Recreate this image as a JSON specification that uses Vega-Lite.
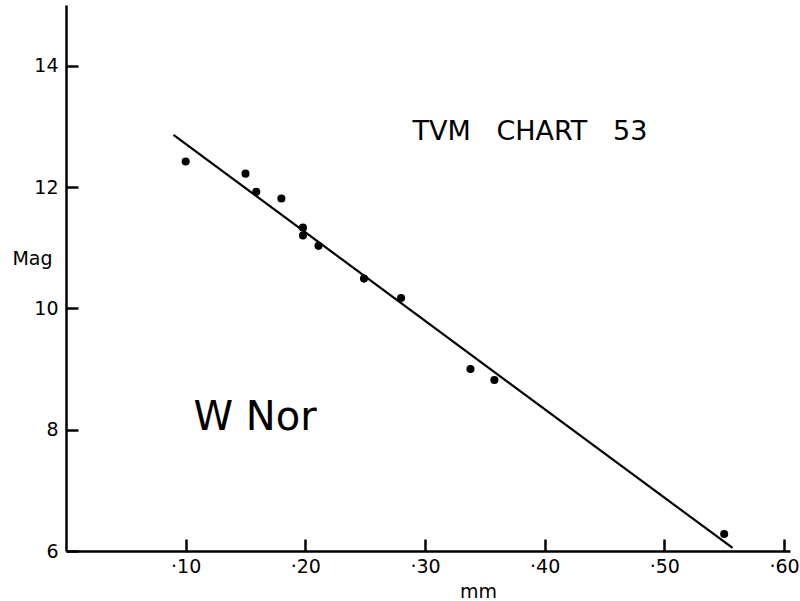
{
  "$schema": "https://vega.github.io/schema/vega-lite/v6.json",
  "width": 724,
  "height": 546,
  "autosize": "none",
  "padding": {"left": 66, "top": 5, "right": 10, "bottom": 50},
  "background": "white",
  "config": {
    "view": {"stroke": null},
    "font": "DejaVu Sans",
    "axis": {"grid": false, "domainColor": "black", "domainWidth": 2.5, "tickColor": "black", "tickWidth": 2.5, "labelColor": "black", "titleColor": "black", "labelFont": "DejaVu Sans", "titleFont": "DejaVu Sans", "labelFontSize": 19, "titleFontSize": 19, "titleFontWeight": "normal", "labelFontWeight": 500}
  },
  "datasets": {
    "pts": [
      {"mm": 0.100, "mag": 12.42},
      {"mm": 0.150, "mag": 12.22},
      {"mm": 0.159, "mag": 11.92},
      {"mm": 0.180, "mag": 11.81},
      {"mm": 0.198, "mag": 11.33},
      {"mm": 0.198, "mag": 11.20},
      {"mm": 0.211, "mag": 11.03},
      {"mm": 0.249, "mag": 10.49},
      {"mm": 0.280, "mag": 10.17},
      {"mm": 0.338, "mag": 9.00},
      {"mm": 0.358, "mag": 8.82},
      {"mm": 0.550, "mag": 6.28}
    ],
    "fit": [
      {"mm": 0.0898, "mag": 12.86},
      {"mm": 0.557, "mag": 6.05}
    ],
    "labels": [
      {"mm": 0.3877, "mag": 12.91, "label": "TVM\u00a0\u00a0\u00a0CHART\u00a0\u00a0\u00a053", "kind": "title"},
      {"mm": 0.158, "mag": 8.19, "label": "W\u00a0Nor", "kind": "star"}
    ]
  },
  "layer": [
    {
      "data": {"name": "fit"},
      "mark": {"type": "line", "color": "black", "strokeWidth": 2.2},
      "encoding": {
        "x": {"field": "mm", "type": "quantitative", "scale": {"domain": [0, 0.605], "nice": false, "zero": false},
          "axis": {"values": [0.1, 0.2, 0.3, 0.4, 0.5, 0.6], "labelExpr": "'·' + format(datum.value * 100, '.0f')", "tickSize": -12, "labelPadding": 18, "title": "mm", "titleX": 412, "titleY": 40, "titleBaseline": "middle"}},
        "y": {"field": "mag", "type": "quantitative", "scale": {"domain": [6, 15], "nice": false, "zero": false},
          "axis": {"values": [6, 8, 10, 12, 14], "format": "d", "tickSize": -12, "labelPadding": 20, "title": "Mag", "titleAngle": 0, "titleX": -34, "titleY": 253, "titleAlign": "center", "titleBaseline": "middle"}}
      }
    },
    {
      "data": {"name": "pts"},
      "mark": {"type": "circle", "color": "black", "opacity": 1, "size": 65},
      "encoding": {
        "x": {"field": "mm", "type": "quantitative"},
        "y": {"field": "mag", "type": "quantitative"}
      }
    },
    {
      "data": {"name": "labels"},
      "transform": [{"filter": "datum.kind == 'title'"}],
      "mark": {"type": "text", "fontSize": 27, "fontWeight": 500, "color": "black", "align": "center", "baseline": "middle"},
      "encoding": {
        "x": {"field": "mm", "type": "quantitative"},
        "y": {"field": "mag", "type": "quantitative"},
        "text": {"field": "label"}
      }
    },
    {
      "data": {"name": "labels"},
      "transform": [{"filter": "datum.kind == 'star'"}],
      "mark": {"type": "text", "fontSize": 40, "fontWeight": 500, "color": "black", "align": "center", "baseline": "middle"},
      "encoding": {
        "x": {"field": "mm", "type": "quantitative"},
        "y": {"field": "mag", "type": "quantitative"},
        "text": {"field": "label"}
      }
    }
  ]
}
